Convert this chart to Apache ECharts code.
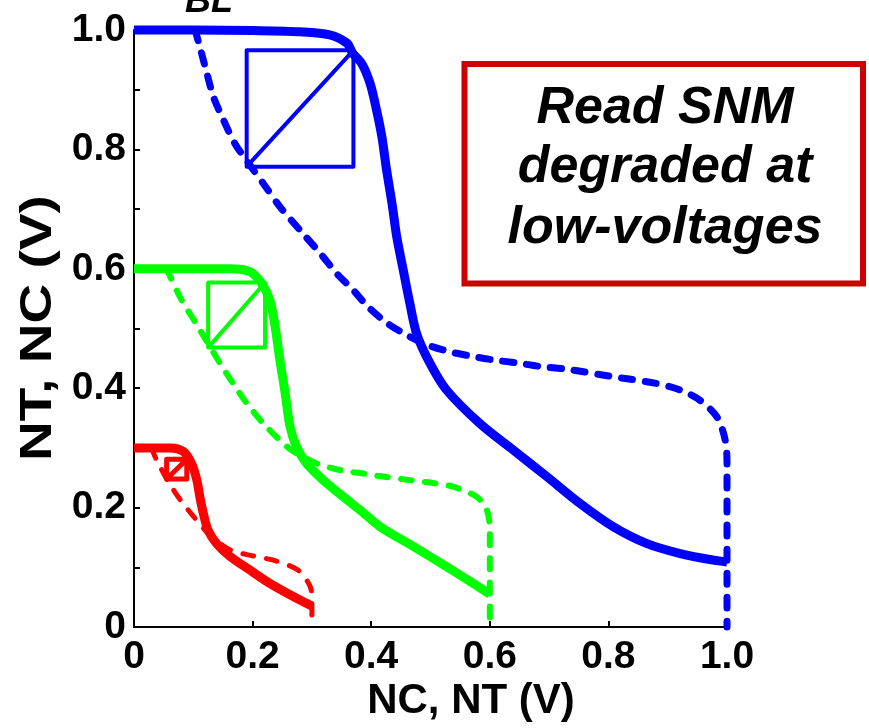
<!DOCTYPE html>
<html>
<head>
<meta charset="utf-8">
<script src="https://cdn.jsdelivr.net/npm/echarts@6/dist/echarts.min.js"></script>
<style>
  html, body { margin: 0; padding: 0; background: #fff; }
  #chart { width: 869px; height: 728px; }
</style>
</head>
<body>
<div id="chart"></div>
<script>
// Butterfly curves (NT vs NC and NC vs NT) at three supply voltages.
const xTickLabels = ['0', '0.2', '0.4', '0.6', '0.8', '1.0'];
const yTickLabels = ['0', '', '0.2', '', '0.4', '', '0.6', '', '0.8', '', '1.0'];

// VDD = 1.0 V
const blueSolid = [[0, 1.0], [0.1, 1.0], [0.2, 0.999], [0.28, 0.997], [0.33, 0.992], [0.359, 0.978],
  [0.369, 0.961], [0.384, 0.944], [0.398, 0.911], [0.409, 0.866], [0.418, 0.821], [0.426, 0.765],
  [0.435, 0.710], [0.443, 0.654], [0.454, 0.598], [0.465, 0.543], [0.477, 0.490], [0.499, 0.442],
  [0.527, 0.397], [0.583, 0.341], [0.640, 0.296], [0.696, 0.252], [0.752, 0.207], [0.808, 0.168],
  [0.864, 0.140], [0.921, 0.123], [0.977, 0.112], [1.0, 0.109]];
const blueDashed = [[0.103, 1.0], [0.111, 0.972], [0.123, 0.927], [0.134, 0.888], [0.151, 0.849],
  [0.170, 0.810], [0.193, 0.777], [0.218, 0.743], [0.246, 0.704], [0.285, 0.659], [0.314, 0.626],
  [0.342, 0.592], [0.370, 0.564], [0.392, 0.539], [0.424, 0.511], [0.458, 0.490], [0.496, 0.472],
  [0.533, 0.461], [0.572, 0.453], [0.609, 0.447], [0.648, 0.442], [0.688, 0.436], [0.729, 0.432],
  [0.803, 0.420], [0.881, 0.408], [0.921, 0.397], [0.954, 0.380], [0.983, 0.352], [0.997, 0.313],
  [1.0, 0.275], [1.0, 0.0]];
const blueBox = [0.190, 0.771, 0.370, 0.966];

// VDD = 0.6 V
const greenSolid = [[0, 0.6], [0.1, 0.6], [0.162, 0.6], [0.196, 0.595], [0.215, 0.576], [0.229, 0.548],
  [0.238, 0.503], [0.246, 0.447], [0.255, 0.391], [0.263, 0.336], [0.274, 0.302], [0.291, 0.274],
  [0.319, 0.246], [0.353, 0.218], [0.381, 0.196], [0.415, 0.168], [0.471, 0.135], [0.527, 0.101],
  [0.572, 0.073], [0.6, 0.055]];
const greenDashed = [[0.055, 0.6], [0.061, 0.587], [0.080, 0.548], [0.103, 0.511], [0.123, 0.478],
  [0.145, 0.442], [0.167, 0.408], [0.190, 0.375], [0.218, 0.341], [0.246, 0.313], [0.269, 0.294],
  [0.308, 0.274], [0.347, 0.263], [0.387, 0.257], [0.420, 0.252], [0.465, 0.246], [0.505, 0.241],
  [0.538, 0.235], [0.578, 0.218], [0.595, 0.196], [0.6, 0.162], [0.6, 0.0]];
const greenBox = [0.125, 0.468, 0.221, 0.577];

// VDD = 0.3 V
const redSolid = [[0, 0.3], [0.04, 0.3], [0.061, 0.3], [0.083, 0.294], [0.097, 0.274], [0.106, 0.246],
  [0.111, 0.218], [0.117, 0.190], [0.125, 0.162], [0.139, 0.140], [0.162, 0.118], [0.196, 0.095],
  [0.229, 0.073], [0.263, 0.054], [0.3, 0.035]];
const redDashed = [[0.03, 0.3], [0.033, 0.291], [0.041, 0.274], [0.058, 0.243], [0.078, 0.213],
  [0.103, 0.182], [0.128, 0.154], [0.162, 0.129], [0.201, 0.119], [0.238, 0.111], [0.277, 0.095],
  [0.297, 0.068], [0.3, 0.045], [0.3, 0.0]];
const redBox = [0.055, 0.248, 0.089, 0.281];

const FONT = '"Liberation Sans", Arial, Helvetica, sans-serif';

// Square with its diagonal, bottom-left to top-right
function boxPath(b) {
  const [x0, y0, x1, y1] = b;
  return [[x0, y0], [x1, y0], [x1, y1], [x0, y1], [x0, y0], [x1, y1]];
}

function curve(data, color, width, dashed, smooth) {
  return {
    type: 'line', data: data, symbol: 'none', clip: false, smooth: smooth,
    lineStyle: {
      color: color, width: width,
      type: dashed ? [11, 13] : 'solid',
      cap: dashed ? 'round' : 'butt', join: 'round'
    },
    silent: true, animation: false
  };
}

const chart = echarts.init(document.getElementById('chart'));
chart.setOption({
  backgroundColor: '#ffffff',
  animation: false,
  grid: { left: 134, right: 142, top: 30, bottom: 101, containLabel: false },
  xAxis: {
    type: 'value', min: 0, max: 1, interval: 0.2,
    axisLine: { show: true, onZero: false, lineStyle: { color: '#000', width: 2 } },
    axisTick: { show: true, inside: true, length: 6, lineStyle: { color: '#000', width: 2 } },
    splitLine: { show: false },
    axisLabel: {
      margin: 11, color: '#000', fontFamily: FONT, fontWeight: 'bold', fontSize: 39,
      formatter: v => xTickLabels[Math.round(v * 5)]
    }
  },
  yAxis: {
    type: 'value', min: 0, max: 1, interval: 0.1,
    axisLine: { show: true, onZero: false, lineStyle: { color: '#000', width: 2 } },
    axisTick: { show: true, inside: true, length: 6, lineStyle: { color: '#000', width: 2 } },
    splitLine: { show: false },
    axisLabel: {
      margin: 8, color: '#000', fontFamily: FONT, fontWeight: 'bold', fontSize: 39,
      formatter: v => yTickLabels[Math.round(v * 10)]
    }
  },
  series: [
    curve(blueDashed, '#0000ff', 7, true, 0.3),
    curve(greenDashed, '#00ff00', 6, true, 0.3),
    curve(redDashed, '#ff0000', 5, true, 0.3),
    curve(boxPath(blueBox), '#0000ff', 4, false, false),
    curve(boxPath(greenBox), '#00ff00', 4, false, false),
    curve(boxPath(redBox), '#ff0000', 5, false, false),
    curve(blueSolid, '#0000ff', 9, false, 0.3),
    curve(greenSolid, '#00ff00', 9, false, 0.3),
    curve(redSolid, '#ff0000', 9, false, 0.3)
  ],
  graphic: [
    {
      type: 'text', left: 185, top: -16, silent: true,
      style: { text: 'BL', fill: '#000', font: 'italic bold 36px ' + FONT }
    },
    {
      type: 'text', x: 39, y: 328, rotation: Math.PI / 2, scaleX: 1.25, silent: true,
      style: { text: 'NT, NC (V)', fill: '#000', font: 'bold 44px ' + FONT, align: 'center', verticalAlign: 'middle' }
    },
    {
      type: 'text', x: 471, y: 701, silent: true,
      style: { text: 'NC, NT (V)', fill: '#000', font: 'bold 42px ' + FONT, align: 'center', verticalAlign: 'middle' }
    },
    {
      type: 'rect', silent: true,
      shape: { x: 464.5, y: 64, width: 398.5, height: 219.5 },
      style: { fill: '#ffffff', stroke: '#cc0000', lineWidth: 6 }
    },
    {
      type: 'text', x: 665, y: 109, silent: true,
      style: { text: 'Read SNM', fill: '#000', font: 'italic bold 52px ' + FONT, align: 'center', verticalAlign: 'middle' }
    },
    {
      type: 'text', x: 665, y: 168, silent: true,
      style: { text: 'degraded at', fill: '#000', font: 'italic bold 52px ' + FONT, align: 'center', verticalAlign: 'middle' }
    },
    {
      type: 'text', x: 665, y: 229, silent: true,
      style: { text: 'low-voltages', fill: '#000', font: 'italic bold 52px ' + FONT, align: 'center', verticalAlign: 'middle' }
    }
  ]
});
</script>
</body>
</html>
